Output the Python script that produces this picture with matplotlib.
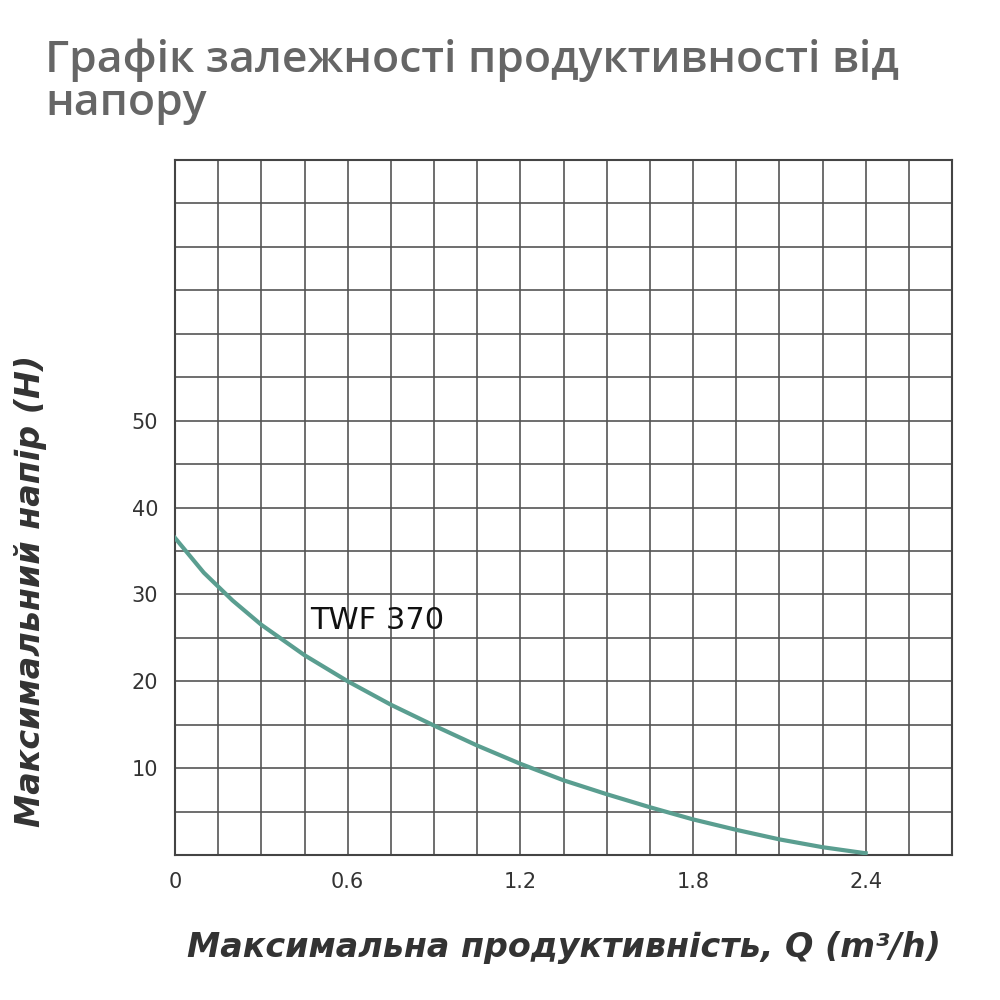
import matplotlib
matplotlib.use("Agg")
import matplotlib.pyplot as plt
import numpy as np

q = [0, 0.1, 0.2, 0.3, 0.45, 0.6, 0.75, 0.9, 1.05, 1.2, 1.35, 1.5, 1.65, 1.8, 1.95, 2.1, 2.25, 2.4]
h = [36.5, 32.5, 29.3, 26.5, 23, 20, 17.3, 14.9, 12.6, 10.5, 8.6, 7, 5.5, 4.1, 2.9, 1.8, 0.9, 0.2]
xticks = [0, 0.6, 1.2, 1.8, 2.4]
yticks = [10, 20, 30, 40, 50]

fig = plt.figure(figsize=(10, 10), dpi=100)
ax = fig.add_axes([0.175, 0.145, 0.777, 0.695])
ax.set_xlim(0, 2.7)
ax.set_ylim(0, 80)
for gx in np.arange(0.15, 2.7, 0.15):
    ax.axvline(gx, color="#555555", lw=1.2)
for gy in np.arange(5, 80, 5):
    ax.axhline(gy, color="#555555", lw=1.2)
ax.set_xticks(xticks)
ax.set_xticklabels(["0", "0.6", "1.2", "1.8", "2.4"])
ax.set_yticks(yticks)
ax.tick_params(which="both", length=0, labelsize=15, colors="#333333", pad=12)
for s in ax.spines.values():
    s.set_color("#444444"); s.set_linewidth(1.5)
ax.plot(q, h, color="#5a9e90", lw=3, zorder=5)
ax.text(0.47, 26, "TWF 370", fontsize=22, color="#111111", zorder=6)
ax.set_xlabel("Максимальна продуктивність, Q (m³/h)", fontsize=24, fontweight="bold",
              style="italic", color="#333333")
ax.set_ylabel("Максимальний напір (H)", fontsize=24, fontweight="bold",
              style="italic", color="#333333")
ax.yaxis.set_label_coords(-0.165, 0.38)
ax.xaxis.set_label_coords(0.5, -0.11)
fig.text(0.045, 0.875, "Графік залежності продуктивності від\nнапору", fontsize=32,
         fontweight="semibold", family="Open Sans", color="#666666", ha="left", va="bottom",
         linespacing=1.0)
fig.savefig("out.png")
